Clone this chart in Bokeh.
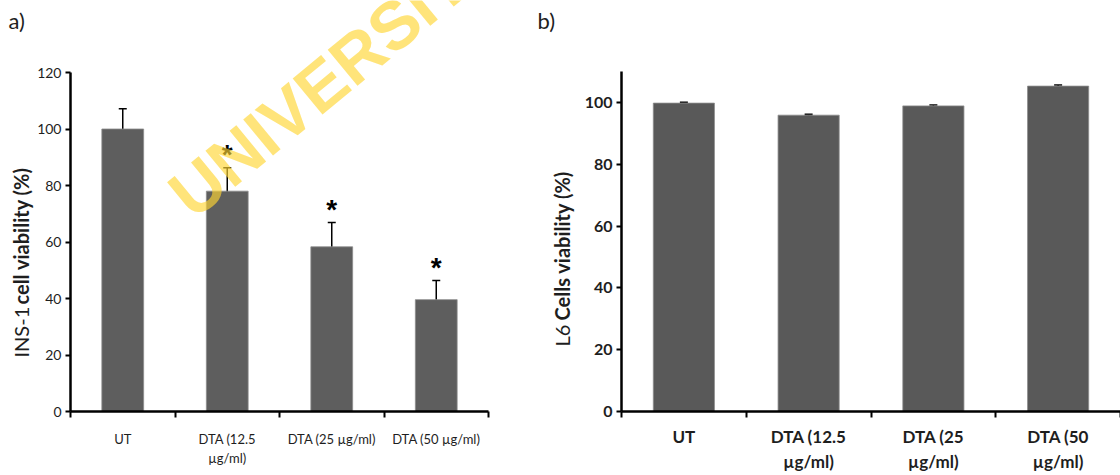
import math
from bokeh.plotting import figure
from bokeh.models import Range1d, FixedTicker, Label, Whisker, TeeHead, ColumnDataSource
from bokeh.layouts import row
from bokeh.embed import file_html
from bokeh.resources import INLINE

# ---------------- data ----------------
categories_a = ["UT", "DTA (12.5\nµg/ml)", "DTA (25 µg/ml)", "DTA (50 µg/ml)"]
viability_a = [100.0, 78.0, 58.3, 39.6]
error_a = [7.2, 8.3, 8.6, 6.8]
significant_a = [False, True, True, True]
yticks_a = [0, 20, 40, 60, 80, 100, 120]

categories_b = ["UT", "DTA (12.5\nµg/ml)", "DTA (25\nµg/ml)", "DTA (50\nµg/ml)"]
viability_b = [99.8, 95.9, 98.9, 105.3]
error_b = [0.3, 0.3, 0.3, 0.4]
yticks_b = [0, 20, 40, 60, 80, 100]

FONT = "Lato"
TXT = "#1e1e1e"
H = 475
BOTTOM = 64          # every plot in the row shares the same bottom border
FRAME_H = H - BOTTOM  # frames use the full height (axes are bounded instead)


def style_axes(p, xticks, xlabels, yticks, tick_size, tick_style, x_size, x_style, x_standoff):
    p.xaxis.ticker = FixedTicker(ticks=xticks, minor_ticks=[i for i in range(len(xticks) + 1)])
    p.xaxis.major_label_overrides = {x: l for x, l in zip(xticks, xlabels)}
    p.xaxis.major_tick_line_color = None
    p.xaxis.minor_tick_line_color = "black"
    p.xaxis.minor_tick_line_width = 2
    p.xaxis.minor_tick_in = 0
    p.xaxis.minor_tick_out = 6
    p.xaxis.major_label_standoff = x_standoff
    p.xaxis.major_label_text_font = FONT
    p.xaxis.major_label_text_font_size = x_size
    p.xaxis.major_label_text_font_style = x_style
    p.xaxis.major_label_text_color = TXT
    p.yaxis.ticker = FixedTicker(ticks=yticks)
    p.yaxis.minor_tick_line_color = None
    p.yaxis.major_tick_in = 0
    p.yaxis.major_tick_out = 5
    p.yaxis.major_tick_line_width = 2
    p.yaxis.major_label_standoff = 4
    p.yaxis.major_label_text_font = FONT
    p.yaxis.major_label_text_font_size = tick_size
    p.yaxis.major_label_text_font_style = tick_style
    p.yaxis.major_label_text_color = TXT
    for ax in (p.xaxis, p.yaxis):
        ax.axis_line_color = "black"
        ax.axis_line_width = 2.5
    p.xgrid.visible = False
    p.ygrid.visible = False
    p.outline_line_color = None


def text_strip(width):
    t = figure(width=width, height=H, x_range=Range1d(0, 1), y_range=Range1d(0, 1),
               x_axis_location=None, y_axis_location=None,
               min_border_left=0, min_border_right=0, min_border_top=0, min_border_bottom=BOTTOM,
               output_backend="svg", toolbar_location=None)
    t.outline_line_color = None
    t.grid.visible = False
    return t


def add_whiskers(p, xs, vals, errs):
    src = ColumnDataSource(dict(x=xs,
                                upper=[v + e for v, e in zip(vals, errs)],
                                lower=[v - e for v, e in zip(vals, errs)]))
    p.add_layout(Whisker(source=src, base="x", upper="upper", lower="lower",
                         line_color="black", line_width=1.5,
                         upper_head=TeeHead(size=8, line_width=1.5, line_color="black"),
                         lower_head=TeeHead(size=8, line_width=1.5, line_color="black")))


def ylabel(t, x, y0, font_size, plain, bold, gap_em):
    fs = float(font_size.replace("px", ""))
    t.add_layout(Label(x=x, y=y0, x_units="screen", y_units="screen", angle=math.pi / 2,
                       text=plain, text_font=FONT, text_font_size=font_size,
                       text_color=TXT, text_baseline="middle", text_align="left"))
    t.add_layout(Label(x=x, y=y0 + gap_em * fs, x_units="screen", y_units="screen",
                       angle=math.pi / 2, text=bold, text_font=FONT, text_font_size=font_size,
                       text_font_style="bold", text_color=TXT,
                       text_baseline="middle", text_align="left"))


# ---------------- strip with a) and left axis title ----------------
ta = text_strip(34)
ta.add_layout(Label(x=8, y=378, x_units="screen", y_units="screen", text="a)",
                    text_font=FONT, text_font_size="22px", text_color=TXT))
ylabel(ta, 20, 54, "20px", "INS-1", "cell viability (%)", 2.65)

# ---------------- panel a ----------------
pa = figure(width=496, height=H, x_range=Range1d(0, 4),
            y_range=Range1d(0, 120 * FRAME_H / (FRAME_H - 72)),
            output_backend="svg", toolbar_location=None,
            min_border_left=36, min_border_right=42, min_border_top=0, min_border_bottom=BOTTOM)
xa = [i + 0.5 for i in range(len(categories_a))]
pa.vbar(x=xa, top=viability_a, width=0.4, fill_color="#5e5e5e", line_color="#8c8c8c", line_width=0.8)
add_whiskers(pa, xa, viability_a, error_a)
sx = [x for x, s in zip(xa, significant_a) if s]
sy = [v + e + 4.5 for v, e, s in zip(viability_a, error_a, significant_a) if s]
pa.text(x=sx, y=sy, text=["*"] * len(sx), text_font_size="28px", text_font_style="bold",
        text_align="center", text_baseline="middle", text_color="black")
style_axes(pa, xa, categories_a, yticks_a, "14px", "normal", "13px", "normal", 13)
pa.yaxis.bounds = (0, 120)
pa.add_layout(Label(x=108, y=209, x_units="screen", y_units="screen", angle=0.69,
                    text="UNIVERSITY", text_font="Liberation Sans", text_font_size="68px",
                    text_font_style="bold", text_color="#FFD633", text_alpha=0.65,
                    text_baseline="alphabetic", text_align="left"))

# ---------------- strip with b) and right axis title ----------------
tb = text_strip(48)
tb.add_layout(Label(x=7, y=378, x_units="screen", y_units="screen", text="b)",
                    text_font=FONT, text_font_size="22px", text_color=TXT))
ylabel(tb, 31, 65, "20px", "L6", "Cells viability (%)", 1.3)

# ---------------- panel b ----------------
pb = figure(width=542, height=H, x_range=Range1d(0, 4),
            y_range=Range1d(0, 100 * FRAME_H / (FRAME_H - 102)),
            output_backend="svg", toolbar_location=None,
            min_border_left=43, min_border_right=0, min_border_top=0, min_border_bottom=BOTTOM)
xb = [i + 0.5 for i in range(len(categories_b))]
pb.vbar(x=xb, top=viability_b, width=0.49, fill_color="#595959", line_color="#8c8c8c", line_width=0.8)
add_whiskers(pb, xb, viability_b, error_b)
style_axes(pb, xb, categories_b, yticks_b, "16px", "bold", "17px", "bold", 8)
pb.yaxis.bounds = (0, 110)

layout = row(ta, pa, tb, pb)
open("out.html", "w").write(file_html(layout, INLINE))
